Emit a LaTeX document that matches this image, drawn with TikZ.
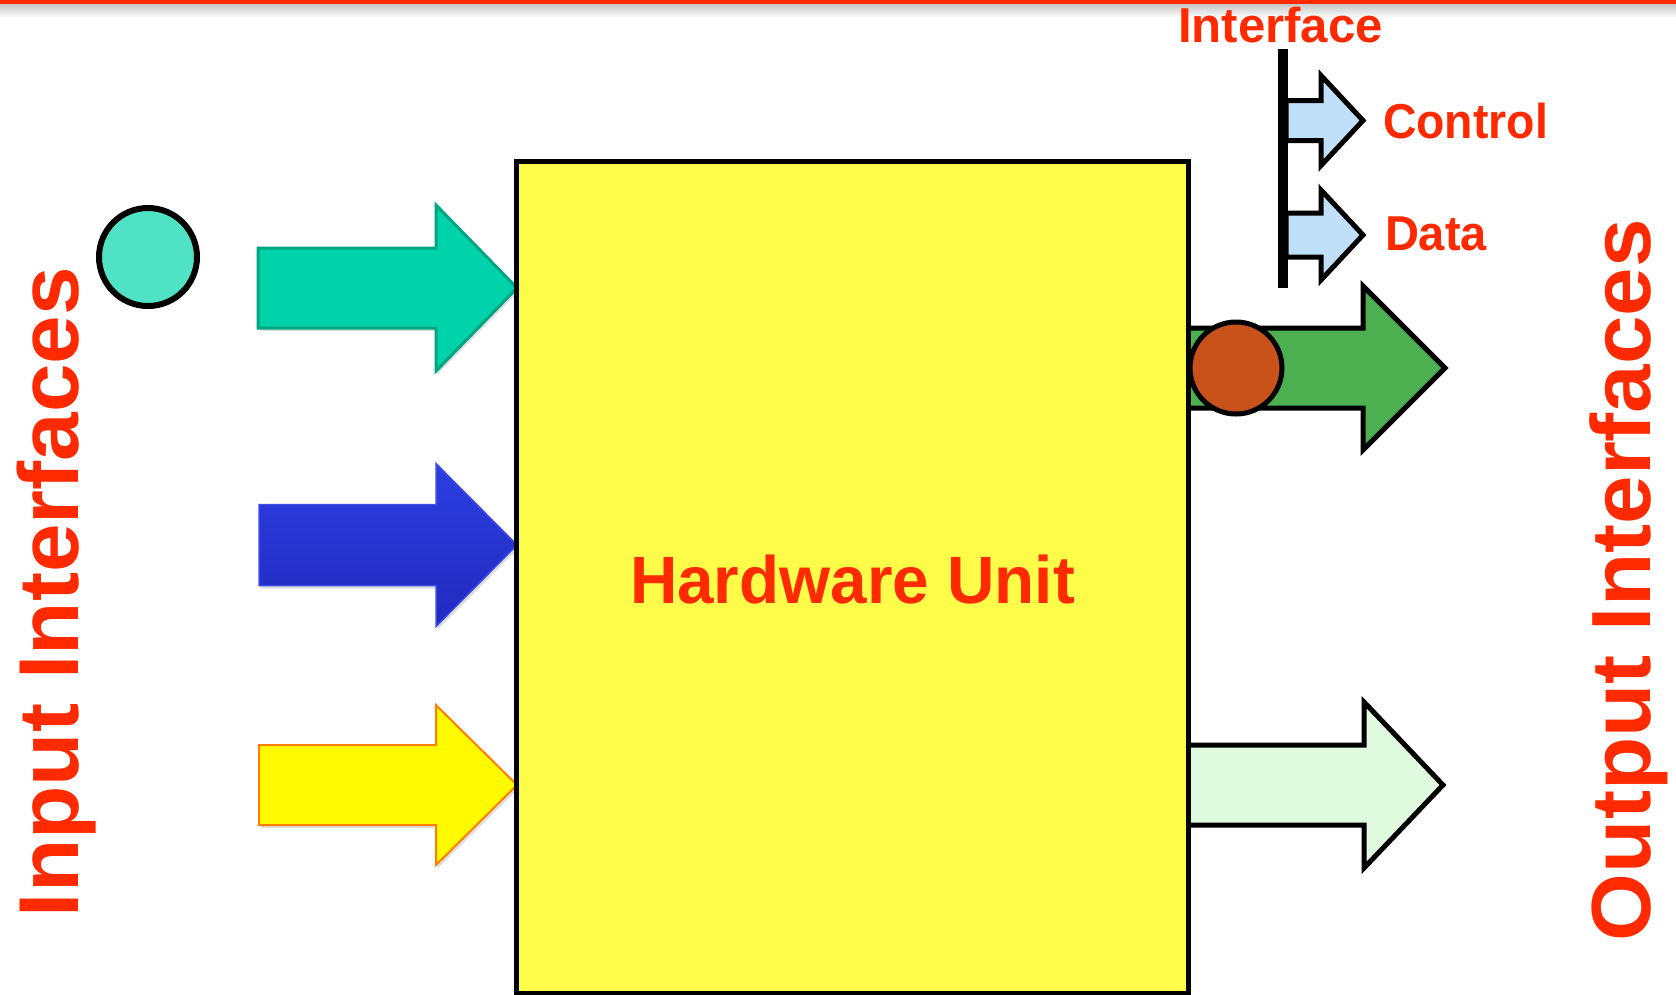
\documentclass[tikz,border=0pt]{standalone}
\usepackage{fontspec}
\usepackage{graphicx}
\setmainfont{Liberation Sans}
\usetikzlibrary{shadows}
\definecolor{txtred}{RGB}{255,42,0}
\definecolor{hwyellow}{RGB}{255,252,74}
\definecolor{tealfill}{RGB}{0,210,170}
\definecolor{tealline}{RGB}{0,166,130}
\definecolor{tealcirc}{RGB}{80,226,196}
\definecolor{bluetop}{RGB}{44,62,226}
\definecolor{bluebot}{RGB}{34,42,190}
\definecolor{blueline}{RGB}{60,76,230}
\definecolor{yelfill}{RGB}{255,250,0}
\definecolor{yelline}{RGB}{255,128,0}
\definecolor{grnfill}{RGB}{76,175,80}
\definecolor{ltgrn}{RGB}{224,250,224}
\definecolor{ltblue}{RGB}{192,224,250}
\definecolor{orgcirc}{RGB}{200,82,26}
\newcommand\barrow[7]{%
  \path[#1] (#2,#5-#6) -- (#3,#5-#6) -- (#3,#5-#7) -- (#4,#5) -- (#3,#5+#7) -- (#3,#5+#6) -- (#2,#5+#6) -- cycle;}
\newcommand\fitw[3]{\resizebox{#1pt}{\height}{\fontsize{#2}{#2}\selectfont\bfseries #3}}
\tikzset{
  lbl/.style={inner sep=0pt, outer sep=0pt, text=txtred, anchor=base west},
  softshadow/.style={drop shadow={opacity=0.25, shadow xshift=2pt, shadow yshift=-3pt}},
  tealarrow/.style={fill=tealfill, draw=tealline, line width=3pt, line join=miter, softshadow},
  bluearrow/.style={top color=bluetop, bottom color=bluebot, draw=blueline, line width=1.5pt, softshadow},
  yelarrow/.style={fill=yelfill, draw=yelline, line width=2pt, softshadow},
  outarrow/.style={draw=black, line width=5pt, line join=miter, miter limit=10},
  busarrow/.style={fill=ltblue, draw=black, line width=5pt, line join=miter, miter limit=10},
}
\begin{document}
\begin{tikzpicture}[x=1pt, y=-1pt]
\useasboundingbox (0,0) rectangle (1676,994);
% top bar
\shade[top color=black!22, bottom color=white] (0,4) rectangle (1676,18);
\fill[txtred] (0,0) rectangle (1676,4);

% input arrows
\barrow{tealarrow}{258}{436}{517}{288}{40}{83}
\barrow{bluearrow}{259}{436}{517}{545}{40.5}{81.5}
\barrow{yelarrow}{259}{436}{517}{785}{40}{80}

% output arrows
\barrow{outarrow, fill=grnfill}{1186}{1363}{1445}{368}{40}{82}
\barrow{outarrow, fill=ltgrn}{1186}{1364}{1443}{785}{40}{83}

% hardware unit box
\node[draw=black, line width=5pt, fill=hwyellow, minimum width=672pt, minimum height=832pt,
      inner sep=0pt, anchor=north west] (hw) at (514,159) {};
\node[lbl] (hwlabel) at (630,603) {\fitw{445}{67}{Hardware Unit}};

% circles
\node[circle, draw=black, line width=6pt, fill=tealcirc, minimum size=98pt, inner sep=0pt] (incirc) at (148,257) {};
\node[circle, draw=black, line width=5pt, fill=orgcirc, minimum size=92pt, inner sep=0pt] (outcirc) at (1236,368) {};

% interface legend
\barrow{busarrow}{1286}{1321}{1363}{120.5}{20}{45}
\barrow{busarrow}{1286}{1321}{1363}{235}{22}{45}
\coordinate (bustop) at (1283,49);
\coordinate (busbot) at (1283,288);
\draw[black, line width=10pt] (bustop) -- (busbot);

\node[lbl] (iface) at (1178,42) {\fitw{205}{49}{Interface}};
\node[lbl] (ctrl) at (1383,138) {\fitw{165}{49}{Control}};
\node[lbl] (data) at (1385,250) {\fitw{102}{49}{Data}};

% side titles
\node[lbl, rotate=90] (inlbl) at (78,917) {\fitw{650}{85}{Input Interfaces}};
\node[lbl, rotate=90] (outlbl) at (1650,941) {\fitw{722}{84}{Output Interfaces}};
\end{tikzpicture}
\end{document}
